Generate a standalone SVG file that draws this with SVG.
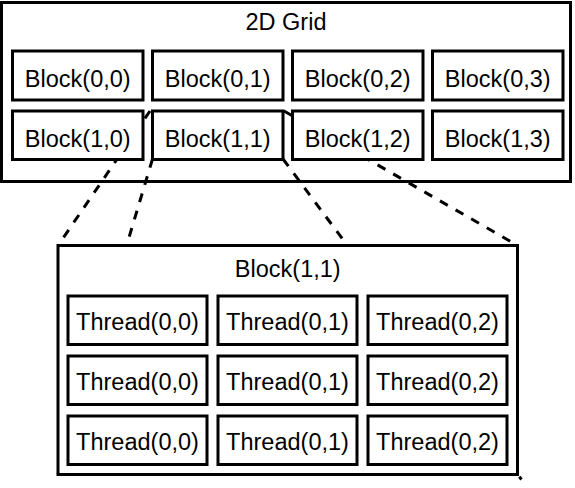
<svg xmlns="http://www.w3.org/2000/svg" width="575" height="488" viewBox="0 0 575 488">
<style>
.box{fill:#fff;stroke:#000;stroke-width:3}
.lbl{font-family:"Liberation Sans",Arial,sans-serif;font-size:23.5px;fill:#000;text-anchor:middle}
.dash{fill:none;stroke:#000;stroke-width:3;stroke-dasharray:9 9}
</style>
<rect width="575" height="488" fill="#fff"/>
<g id="grid">
<rect class="box" x="1.5" y="2.5" width="569" height="179"/>
<text class="lbl" x="286" y="30">2D Grid</text>
</g>
<g id="connectors">
<line class="dash" x1="150" y1="111" x2="58" y2="245.5"/>
<line class="dash" x1="152.5" y1="159" x2="58" y2="474.5"/>
<line class="dash" x1="283" y1="159" x2="521.5" y2="479.5"/>
<line class="dash" x1="284" y1="111" x2="517.5" y2="245.5"/>
</g>
<g id="block-0-0"><rect class="box" x="12.5" y="51" width="130.5" height="49"/><text class="lbl" x="77.75" y="86.5">Block(0,0)</text></g>
<g id="block-0-1"><rect class="box" x="152.5" y="51" width="130.5" height="49"/><text class="lbl" x="217.75" y="86.5">Block(0,1)</text></g>
<g id="block-0-2"><rect class="box" x="292.5" y="51" width="130.5" height="49"/><text class="lbl" x="357.75" y="86.5">Block(0,2)</text></g>
<g id="block-0-3"><rect class="box" x="432.5" y="51" width="130.5" height="49"/><text class="lbl" x="497.75" y="86.5">Block(0,3)</text></g>
<g id="block-1-0"><rect class="box" x="12.5" y="111" width="130.5" height="48.5"/><text class="lbl" x="77.75" y="146.5">Block(1,0)</text></g>
<g id="block-1-1"><rect class="box" x="152.5" y="111" width="130.5" height="48.5"/><text class="lbl" x="217.75" y="146.5">Block(1,1)</text></g>
<g id="block-1-2"><rect class="box" x="292.5" y="111" width="130.5" height="48.5"/><text class="lbl" x="357.75" y="146.5">Block(1,2)</text></g>
<g id="block-1-3"><rect class="box" x="432.5" y="111" width="130.5" height="48.5"/><text class="lbl" x="497.75" y="146.5">Block(1,3)</text></g>
<g id="block-detail">
<rect class="box" x="58" y="245.5" width="459.5" height="229"/>
<text class="lbl" x="287.75" y="277">Block(1,1)</text>
</g>
<g id="thread-r0-c0"><rect class="box" x="68" y="296" width="139" height="48.5"/><text class="lbl" x="137.5" y="329.5">Thread(0,0)</text></g>
<g id="thread-r0-c1"><rect class="box" x="218" y="296" width="139" height="48.5"/><text class="lbl" x="287.5" y="329.5">Thread(0,1)</text></g>
<g id="thread-r0-c2"><rect class="box" x="368" y="296" width="139" height="48.5"/><text class="lbl" x="437.5" y="329.5">Thread(0,2)</text></g>
<g id="thread-r1-c0"><rect class="box" x="68" y="356" width="139" height="48.5"/><text class="lbl" x="137.5" y="389.5">Thread(0,0)</text></g>
<g id="thread-r1-c1"><rect class="box" x="218" y="356" width="139" height="48.5"/><text class="lbl" x="287.5" y="389.5">Thread(0,1)</text></g>
<g id="thread-r1-c2"><rect class="box" x="368" y="356" width="139" height="48.5"/><text class="lbl" x="437.5" y="389.5">Thread(0,2)</text></g>
<g id="thread-r2-c0"><rect class="box" x="68" y="416" width="139" height="48.5"/><text class="lbl" x="137.5" y="449.5">Thread(0,0)</text></g>
<g id="thread-r2-c1"><rect class="box" x="218" y="416" width="139" height="48.5"/><text class="lbl" x="287.5" y="449.5">Thread(0,1)</text></g>
<g id="thread-r2-c2"><rect class="box" x="368" y="416" width="139" height="48.5"/><text class="lbl" x="437.5" y="449.5">Thread(0,2)</text></g>
</svg>
